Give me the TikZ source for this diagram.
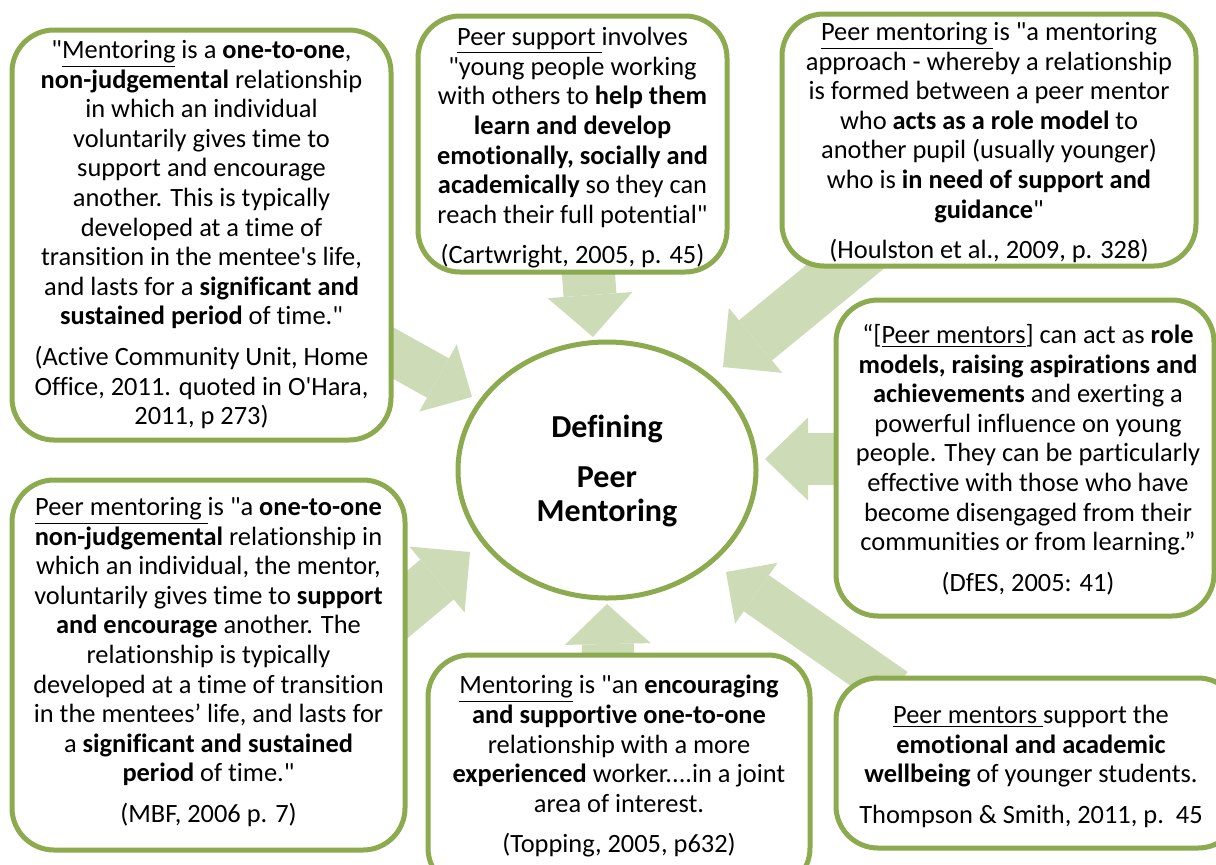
\documentclass[tikz,border=0pt]{standalone}
\usepackage{fontspec}
\setmainfont{Carlito}[Ligatures={TeXOff,CommonOff}]
\usetikzlibrary{arrows.meta,shapes.geometric}
\definecolor{boxgreen}{RGB}{140,170,78}
\definecolor{arrowgreen}{RGB}{205,219,183}
\tikzset{
  box/.style={draw=boxgreen, line width=2.5pt, fill=white, rounded corners=21pt, rectangle, inner sep=0pt},
  hub/.style={draw=boxgreen, line width=2.5pt, fill=white, ellipse, inner sep=0pt, minimum width=149pt, minimum height=128pt},
  txt/.style={align=center, inner sep=0pt, anchor=north, font=\fontsize{13.2}{14.8}\selectfont},
  hubtxt/.style={align=center, inner sep=0pt, anchor=north, font=\fontsize{16}{17}\selectfont\bfseries},
  blockarrow/.style n args={3}{draw=arrowgreen, line width=#1, -{Triangle[width=#2, length=#3, line width=0pt]}},
}
\begin{document}
\begin{tikzpicture}[x=0.5pt, y=-0.5pt]
\useasboundingbox (0,0) rectangle (1216,864);
\clip (0,0) rectangle (1216,864);

% arrow end points
\coordinate (aAt) at (341,324);  \coordinate (aAh) at (472,397);
\coordinate (aBt) at (586,240);  \coordinate (aBh) at (593,337);
\coordinate (aCt) at (879,239);  \coordinate (aCh) at (723,367);
\coordinate (aDt) at (870,459);  \coordinate (aDh) at (765,459);
\coordinate (aEt) at (895,690);  \coordinate (aEh) at (726,572);
\coordinate (aFt) at (609,700);  \coordinate (aFh) at (607,604);
\coordinate (aGt) at (360,644);  \coordinate (aGh) at (470,552);

% arrows (under the boxes)
\draw[blockarrow={22.5pt}{38.5pt}{19.5pt}] (aAt) -- (aAh);
\draw[blockarrow={26.5pt}{42.5pt}{21pt}] (aBt) -- (aBh);
\draw[blockarrow={26pt}{42pt}{21pt}] (aCt) -- (aCh);
\draw[blockarrow={26pt}{41.5pt}{21.5pt}] (aDt) -- (aDh);
\draw[blockarrow={22pt}{37pt}{18.5pt}] (aEt) -- (aEh);
\draw[blockarrow={26pt}{43pt}{20pt}] (aFt) -- (aFh);
\draw[blockarrow={26pt}{43pt}{21.5pt}] (aGt) -- (aGh);

% boxes
\node[box, minimum width=189.5pt, minimum height=205pt] (b1) at (201.5,235) {};
\node[box, minimum width=154.5pt, minimum height=128pt] (b2) at (572.5,144) {};
\node[box, minimum width=207pt, minimum height=126pt] (b3) at (989,140) {};
\node[box, minimum width=189pt, minimum height=158pt] (b4) at (1025,458) {};
\node[box, minimum width=202pt, minimum height=85pt] (b5) at (1038,763) {};
\node[box, minimum width=191pt, minimum height=117.5pt] (b6) at (619,772.5) {};
\node[box, minimum width=196.5pt, minimum height=185pt] (b7) at (208.5,665) {};
\node[hub] (c) at (607,470) {};

% texts
\node[txt] (t1) at (201.5,40) {"\underline{Mentoring} is a \textbf{one-to-one},\\
\textbf{non-judgemental} relationship\\
in which an individual\\
voluntarily gives time to\\
support and encourage\\
another. This is typically\\
developed at a time of\\
transition in the mentee's life,\\
and lasts for a \textbf{significant and}\\
\textbf{sustained period} of time."\\[5.5pt]
(Active Community Unit, Home\\
Office, 2011. quoted in O'Hara,\\
2011, p 273)};

\node[txt] (t2) at (572.5,27) {\underline{Peer support\ }involves\\
"young people working\\
with others to \textbf{help them}\\
\textbf{learn and develop}\\
\textbf{emotionally, socially and}\\
\textbf{academically} so they can\\
reach their full potential"\\[5.5pt]
(Cartwright, 2005, p. 45)};

\node[txt] (t3) at (989,22) {\underline{Peer mentoring\ }is "a mentoring\\
approach - whereby a relationship\\
is formed between a peer mentor\\
who \textbf{acts as a role model} to\\
another pupil (usually younger)\\
who is \textbf{in need of support and}\\
\textbf{guidance}"\\[5.5pt]
(Houlston et al., 2009, p. 328)};

\node[txt] (t4) at (1028,324) {“[\underline{Peer mentors}] can act as \textbf{role}\\
\textbf{models, raising aspirations and}\\
\textbf{achievements} and exerting a\\
powerful influence on young\\
people. They can be particularly\\
effective with those who have\\
become disengaged from their\\
communities or from learning.”\\[5.5pt]
(DfES, 2005: 41)};

\node[txt] (t5) at (1031,705) {\underline{Peer mentors\ }support the\\
\textbf{emotional and academic}\\
\textbf{wellbeing} of younger students.\\[5.5pt]
Thompson \& Smith, 2011, p.\ \ 45};

\node[txt] (t6) at (619,675) {\underline{Mentoring} is "an \textbf{encouraging}\\
\textbf{and supportive one-to-one}\\
relationship with a more\\
\textbf{experienced} worker....in a joint\\
area of interest.\\[5.5pt]
(Topping, 2005, p632)};

\node[txt] (t7) at (208.5,497) {\underline{Peer mentoring\ }is "a \textbf{one-to-one}\\
\textbf{non-judgemental} relationship in\\
which an individual, the mentor,\\
voluntarily gives time to \textbf{support}\\
\textbf{and encourage} another. The\\
relationship is typically\\
developed at a time of transition\\
in the mentees’ life, and lasts for\\
a \textbf{significant and sustained}\\
\textbf{period} of time."\\[5.5pt]
(MBF, 2006 p. 7)};

\node[hubtxt] (ct) at (607,415) {Defining\\[8pt] Peer\\ Mentoring};
\end{tikzpicture}
\end{document}
